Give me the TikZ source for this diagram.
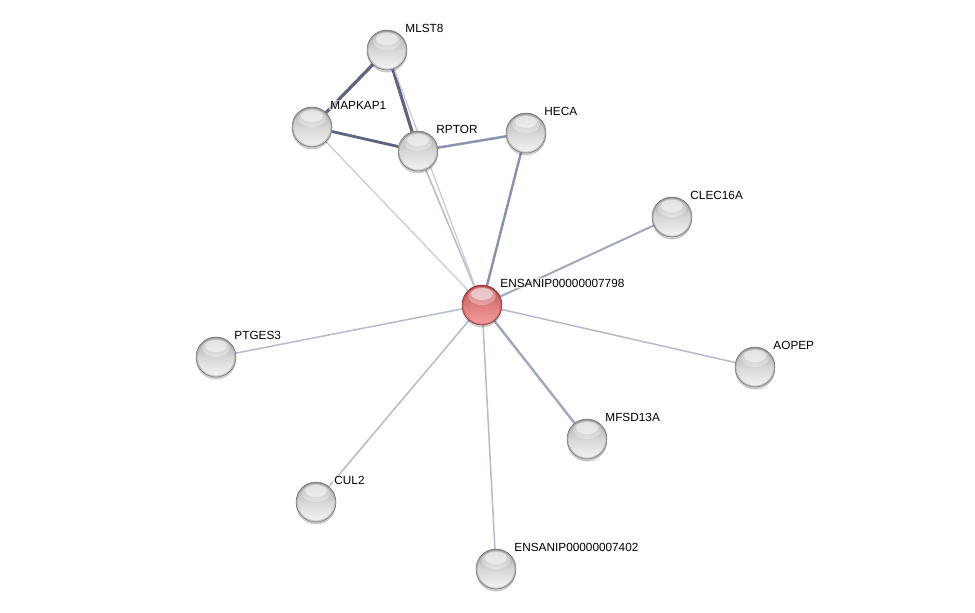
\documentclass[tikz,border=0pt]{standalone}
\usepackage{fontspec}
\setmainfont{Liberation Sans}
\usetikzlibrary{backgrounds,shadows}
\definecolor{gtop}{HTML}{A6A6A6}
\definecolor{gbot}{HTML}{F6F6F6}
\definecolor{grim}{HTML}{6E6E6E}
\definecolor{rtop}{HTML}{B84848}
\definecolor{rbot}{HTML}{F7A0A0}
\definecolor{rrim}{HTML}{8A2E2E}
\definecolor{edark}{HTML}{5E6580}
\definecolor{emid}{HTML}{8A91AA}
\definecolor{emidl}{HTML}{A2A7BD}
\definecolor{elight}{HTML}{B6BACB}
\definecolor{elighter}{HTML}{C6C9D6}
\tikzset{
  ball/.style n args={3}{circle, minimum size=40pt, inner sep=0pt, draw=#3, line width=0.5pt,
    general shadow={fill=black, opacity=0.2, shadow yshift=-2.5pt},
    path picture={
      \begin{scope}[shift={(path picture bounding box.center)}]
        \shade[top color=#1, bottom color=#2, middle color=#2!60!#1] (-21,-21) rectangle (21,21);
        \draw[#3, opacity=0.3, line width=3pt] (0,0) circle (20pt);
        \fill[white, opacity=0.3] (0,-9) ellipse (14pt and 9pt);
        \fill[white, opacity=0.5] (0,-11) ellipse (11pt and 6pt);
      \end{scope}
    }},
  gball/.style={ball={gtop}{gbot}{grim}},
  rball/.style={ball={rtop}{rbot}{rrim}},
  lab/.style={font=\fontsize{11.8}{13}\selectfont, text=black, fill=white, fill opacity=0.6, text opacity=1, inner sep=1pt, xshift=-3pt, yshift=22pt},
  e1/.style={draw=edark, line width=3.2pt},
  e2/.style={draw=emid, line width=2.4pt},
  e3/.style={draw=emidl, line width=2pt},
  e4/.style={draw=elight, line width=1.5pt},
  e5/.style={draw=elighter, line width=1.2pt},
}
\begin{document}
\begin{tikzpicture}[x=1pt,y=-1pt]
\useasboundingbox (0,0) rectangle (975,613);
\node[gball, label={[lab]0:MLST8}] (mlst8) at (387,50) {};
\node[gball, label={[lab]0:MAPKAP1}] (mapkap1) at (312,127) {};
\node[gball, label={[lab]0:RPTOR}] (rptor) at (418,151) {};
\node[gball, label={[lab]0:HECA}] (heca) at (526,133) {};
\node[gball, label={[lab]0:CLEC16A}] (clec) at (672,217) {};
\node[rball, label={[lab]0:ENSANIP00000007798}] (hub) at (482,305) {};
\node[gball, label={[lab]0:PTGES3}] (ptges) at (216,357) {};
\node[gball, label={[lab]0:AOPEP}] (aopep) at (755,367) {};
\node[gball, label={[lab]0:MFSD13A}] (mfsd) at (587,439) {};
\node[gball, label={[lab]0:CUL2}] (cul2) at (316,502) {};
\node[gball, label={[lab]0:ENSANIP00000007402}] (p7402) at (496,569) {};
\begin{scope}[on background layer]
  \fill[white] (0,0) rectangle (975,613);
  \draw[e1] (mlst8) -- (mapkap1);
  \draw[e1] (mlst8) -- (rptor);
  \draw[e1, line width=2.8pt] (mapkap1) -- (rptor);
  \draw[e2] (rptor) -- (heca);
  \draw[e2] (heca) -- (hub);
  \draw[e4] (rptor) -- (hub);
  \draw[e5] (mlst8) -- (hub);
  \draw[e5] (mapkap1) -- (hub);
  \draw[e3] (clec) -- (hub);
  \draw[e4] (ptges) -- (hub);
  \draw[e4] (aopep) -- (hub);
  \draw[e2, draw=emid!80!white] (mfsd) -- (hub);
  \draw[e4] (cul2) -- (hub);
  \draw[e4] (p7402) -- (hub);
\end{scope}
\end{tikzpicture}
\end{document}
